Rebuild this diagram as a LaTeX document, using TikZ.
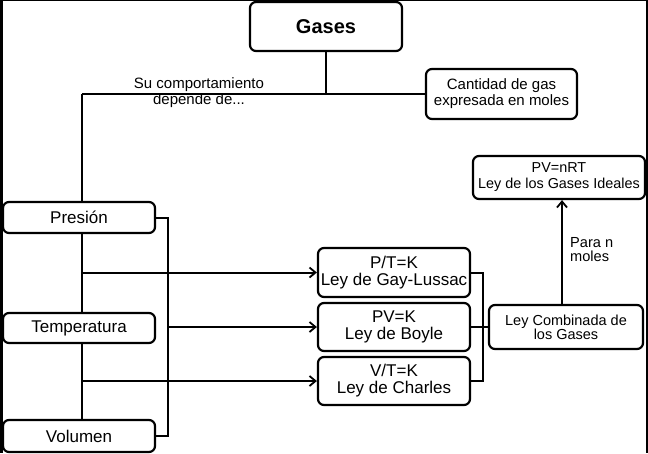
\documentclass[tikz,border=0pt]{standalone}
\usepackage{fontspec}
\setmainfont{Liberation Sans}
\usetikzlibrary{arrows.meta}
\tikzset{
  box/.style={draw=black, line width=2.2pt, rounded corners=6pt, fill=white, align=center, inner sep=0pt},
  conn/.style={draw=black, line width=2pt},
  arr/.style={conn, -{Straight Barb[length=6pt,width=10pt,line width=1.8pt]}},
  fA/.style={font=\fontsize{15}{16}\selectfont},
  fB/.style={font=\fontsize{17}{17}\selectfont},
}
\begin{document}
\begin{tikzpicture}[x=1pt,y=-1pt]
\fill[black] (0,0) rectangle (648,453);
\fill[white] (3,1) rectangle (646,453);
\useasboundingbox (0,0) rectangle (648,453);

\node[box, minimum width=152, minimum height=49, font=\fontsize{20}{20}\selectfont\bfseries] (gases) at (326,26.5) {Gases};
\node[box, fA, minimum width=151, minimum height=50] (cant) at (501.5,94) {Cantidad de gas\\expresada en moles};
\node[box, fB, minimum width=152, minimum height=31] (pres) at (79,217.5) {Presión};
\node[box, fB, minimum width=152, minimum height=30] (temp) at (79,328) {Temperatura};
\node[box, fB, minimum width=152, minimum height=32] (vol) at (79,436) {Volumen};
\node[box, fB, minimum width=152, minimum height=49] (gl) at (394,272.5) {P/T=K\\Ley de Gay-Lussac};
\node[box, fB, minimum width=152, minimum height=48] (boyle) at (394,327) {PV=K\\Ley de Boyle};
\node[box, fB, minimum width=152, minimum height=48] (charles) at (394,381) {V/T=K\\Ley de Charles};
\node[box, font=\fontsize{14.5}{14}\selectfont, minimum width=154, minimum height=44] (comb) at (566,327) {Ley Combinada de\\los Gases};
\node[box, font=\fontsize{14.4}{16}\selectfont, minimum width=172, minimum height=43] (ideal) at (559,177.5) {PV=nRT\\Ley de los Gases Ideales};

\node[fA, align=center, inner sep=0pt] (su) at (199,93) {Su comportamiento\\depende de...};
\node[font=\fontsize{14.6}{14}\selectfont, align=left, anchor=west, inner sep=0pt] (para) at (570,250) {Para n\\moles};

\coordinate (L) at (82,94);
\coordinate (R) at (168,0);
\coordinate (A) at (562,0);

\draw[conn] (gases.south) -- (gases.south |- L);
\draw[conn] (L) -- (cant.west);
\draw[conn] (L) -- (L |- pres.north);
\draw[conn] (L |- pres.south) -- (L |- temp.north);
\draw[conn] (L |- temp.south) -- (L |- vol.north);
\draw[arr] (L |- gl.west) -- (gl.west);
\draw[arr] (L |- charles.west) -- (charles.west);
\draw[conn] (pres.east) -- (R |- pres.east) -- (R |- vol.east) -- (vol.east);
\draw[arr] (R |- boyle.west) -- (boyle.west);
\draw[conn] (gl.east) -- ++(12,0) |- (charles.east);
\draw[conn] (boyle.east) -- (comb.west);
\draw[arr] (A |- comb.north) -- (A |- ideal.south);
\end{tikzpicture}
\end{document}
